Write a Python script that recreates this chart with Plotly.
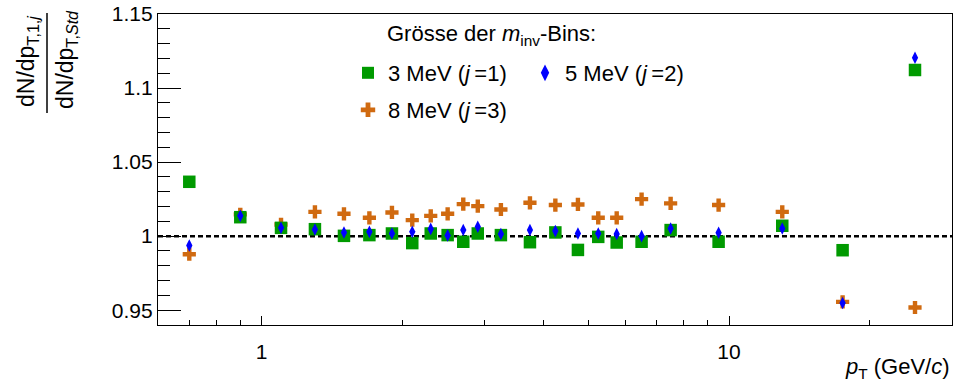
import math
import plotly.graph_objects as go

# pT bin centres (GeV/c)
pt = [0.7, 0.9, 1.1, 1.3, 1.5, 1.7, 1.9, 2.1, 2.3, 2.5, 2.7, 2.9,
      3.25, 3.75, 4.25, 4.75, 5.25, 5.75, 6.5, 7.5, 9.5, 13.0, 17.5, 25.0]

# ratio to the standard binning for each invariant-mass bin width
ratio_3mev = [1.0367, 1.0128, 1.0056, 1.0047, 1.0002, 1.0007, 1.0018, 0.9953,
              1.0018, 1.0007, 0.9962, 1.0018, 1.0007, 0.9959, 1.0025, 0.9907,
              0.9995, 0.9957, 0.9962, 1.0041, 0.9962, 1.0070, 0.9905, 1.1122]
ratio_5mev = [0.9937, 1.0137, 1.0056, 1.0045, 1.0025, 1.0029, 1.0018, 1.0029,
              1.0049, 1.0005, 1.0041, 1.0063, 1.0014, 1.0041, 1.0034, 1.0018,
              1.0018, 1.0014, 1.0000, 1.0052, 1.0023, 1.0052, 0.9549, 1.1205]
ratio_8mev = [0.9878, 1.0147, 1.0079, 1.0164, 1.0151, 1.0124, 1.0160, 1.0108,
              1.0137, 1.0151, 1.0216, 1.0203, 1.0180, 1.0225, 1.0210, 1.0214,
              1.0124, 1.0124, 1.0250, 1.0221, 1.0210, 1.0164, 0.9556, 0.9518]

x_major_ticks = [1, 10]
x_major_labels = ["1", "10"]
x_minor_ticks = [0.7, 0.8, 0.9, 2, 3, 4, 5, 6, 7, 8, 9, 20]
x_limits = [0.6, 30.0]
y_limits = [0.94, 1.15]

FONT = "Liberation Sans, Arial, Helvetica, sans-serif"
GREEN = "#009a00"
BLUE = "#0000ff"
ORANGE = "#d06a10"

# plot-area geometry in pixels (used to place the decorations)
W, H = 954, 387
L, R, T, B = 158, 2, 14, 62
PW, PH = W - L - R, H - T - B


def px(xp):
    return (xp - L) / PW


def py(yp):
    return (H - B - yp) / PH


fig = go.Figure()

fig.add_trace(go.Scatter(
    x=pt, y=ratio_8mev, mode="markers", name="8 MeV (<i>j</i>\u2009=3)",
    marker=dict(symbol="cross", size=11, color=ORANGE, line=dict(width=0)),
    legend="legend3"))
fig.add_trace(go.Scatter(
    x=pt, y=ratio_3mev, mode="markers", name="3 MeV (<i>j</i>\u2009=1)",
    marker=dict(symbol="square", size=12.5, color=GREEN, line=dict(width=0)),
    legend="legend"))
fig.add_trace(go.Scatter(
    x=pt, y=ratio_5mev, mode="markers", name="5 MeV (<i>j</i>\u2009=2)",
    marker=dict(symbol="diamond-tall", size=9, color=BLUE, line=dict(width=0)),
    legend="legend2"))

# reference line at unity
fig.add_shape(type="line", xref="paper", yref="y", x0=0, x1=1, y0=1, y1=1,
              line=dict(color="black", width=2.5, dash="5px,3px"), layer="below")

# y-axis title drawn as a fraction
fig.add_shape(type="line", xref="paper", yref="paper",
              x0=px(47), x1=px(47), y0=py(13), y1=py(113),
              line=dict(color="black", width=1.5))
fig.add_annotation(xref="paper", yref="paper", x=px(27), y=py(62),
                   text="dN/dp<sub>T,1,<i>j</i></sub>", textangle=-90,
                   showarrow=False, xanchor="center", yanchor="middle",
                   font=dict(family=FONT, size=23, color="black"))
fig.add_annotation(xref="paper", yref="paper", x=px(67), y=py(60),
                   text="dN/dp<sub>T,<i>Std</i></sub>", textangle=-90,
                   showarrow=False, xanchor="center", yanchor="middle",
                   font=dict(family=FONT, size=23, color="black"))

# x-axis title
fig.add_annotation(xref="paper", yref="paper", x=1.0, y=py(352),
                   text="<i>p</i><sub>T</sub> (GeV/<i>c</i>)",
                   showarrow=False, xanchor="right", yanchor="top",
                   font=dict(family=FONT, size=22, color="black"))

# legend header
fig.add_annotation(xref="paper", yref="paper", x=px(385), y=py(35),
                   text="Grösse der <i>m</i><sub>inv</sub>-Bins:",
                   showarrow=False, xanchor="left", yanchor="middle",
                   font=dict(family=FONT, size=22, color="black"))

leg_common = dict(font=dict(family=FONT, size=22, color="black"),
                  bgcolor="rgba(0,0,0,0)", borderwidth=0,
                  xanchor="left", yanchor="middle", itemsizing="constant")

fig.update_layout(
    width=W, height=H,
    margin=dict(l=L, r=R, t=T, b=B, pad=0),
    paper_bgcolor="white", plot_bgcolor="white",
    font=dict(family=FONT, size=21, color="black"),
    showlegend=True,
    legend=dict(x=px(348), y=py(73), **leg_common),
    legend2=dict(x=px(525), y=py(73), **leg_common),
    legend3=dict(x=px(348), y=py(110), **leg_common),
    xaxis=dict(
        type="log", range=[math.log10(v) for v in x_limits],
        tickmode="array", tickvals=x_major_ticks, ticktext=x_major_labels,
        ticks="inside", ticklen=9, tickwidth=1, tickcolor="black",
        showgrid=False, zeroline=False,
        showline=True, linecolor="black", linewidth=1.2, mirror=True,
        tickfont=dict(family=FONT, size=21, color="black"),
        ticklabelstandoff=8,
        minor=dict(tickmode="array", tickvals=x_minor_ticks, ticks="inside",
                   ticklen=4.5, tickwidth=1, tickcolor="black", showgrid=False),
    ),
    yaxis=dict(
        range=y_limits, tick0=0.95, dtick=0.05,
        ticks="inside", ticklen=23, tickwidth=1, tickcolor="black",
        showgrid=False, zeroline=False,
        showline=True, linecolor="black", linewidth=1.2, mirror=True,
        tickfont=dict(family=FONT, size=21, color="black"),
        minor=dict(dtick=0.01, tick0=0.94, ticks="inside", ticklen=12,
                   tickwidth=1, tickcolor="black", showgrid=False),
    ),
)

fig.write_html("out.html")
